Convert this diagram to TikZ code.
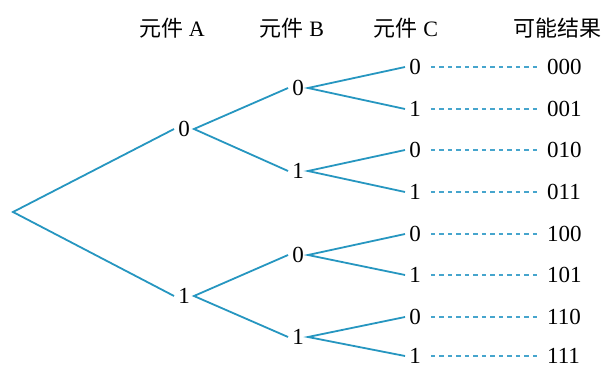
\documentclass[tikz,border=0pt]{standalone}
\usepackage{fontspec}
\setmainfont{Liberation Serif}
\newfontfamily\cjk{Noto Sans CJK SC}
\usepackage{tikz}
\usetikzlibrary{positioning}

\definecolor{branch}{RGB}{38,150,192}
\definecolor{dashblue}{RGB}{70,165,205}

\begin{document}
\begin{tikzpicture}[
    x=1pt, y=-1pt,
    node distance=10pt,
    dig/.style={inner sep=4pt, font=\fontsize{23}{23}\selectfont},
    outcome/.style={inner sep=4pt, font=\fontsize{23}{23}\selectfont},
    head/.style={font=\fontsize{22}{22}\selectfont},
    edge/.style={draw=branch, line width=1.8pt},
    link/.style={draw=dashblue, line width=1.3pt, dash pattern=on 4.5pt off 4pt,
        shorten <=6pt, shorten >=3pt}
]
    \useasboundingbox (0,0) rectangle (611,369);

    % Headers
    \node[head] (hA) at (172,28) {{\cjk 元件}\ A};
    \node[head] (hB) at (292,28) {{\cjk 元件}\ B};
    \node[head] (hC) at (406,28) {{\cjk 元件}\ C};
    \node[head] (hR) at (557,28) {\cjk 可能结果};

    % Tree
    \coordinate (root) at (13,212);
    \node[dig] (a0) at (184,129) {0};
    \node[dig] (a1) at (184,296) {1};
    \node[dig] (b00) at (298,88) {0};
    \node[dig] (b01) at (298,171) {1};
    \node[dig] (b10) at (298,255) {0};
    \node[dig] (b11) at (298,337) {1};
    \node[dig] (c000) at (415,67) {0};
    \node[dig] (c001) at (415,109) {1};
    \node[dig] (c010) at (415,150) {0};
    \node[dig] (c011) at (415,192) {1};
    \node[dig] (c100) at (415,234) {0};
    \node[dig] (c101) at (415,275) {1};
    \node[dig] (c110) at (415,317) {0};
    \node[dig] (c111) at (415,356) {1};

    % Outcomes
    \node[outcome, right=118pt of c000] (o000) {000};
    \node[outcome, right=118pt of c001] (o001) {001};
    \node[outcome, right=118pt of c010] (o010) {010};
    \node[outcome, right=118pt of c011] (o011) {011};
    \node[outcome, right=118pt of c100] (o100) {100};
    \node[outcome, right=118pt of c101] (o101) {101};
    \node[outcome, right=118pt of c110] (o110) {110};
    \node[outcome, right=118pt of c111] (o111) {111};

    % Branches
    \draw[edge] (a0.west) -- (root) -- (a1.west);
    \draw[edge] (b00.west) -- (a0.east) -- (b01.west);
    \draw[edge] (b10.west) -- (a1.east) -- (b11.west);
    \draw[edge] (c000.west) -- (b00.east) -- (c001.west);
    \draw[edge] (c010.west) -- (b01.east) -- (c011.west);
    \draw[edge] (c100.west) -- (b10.east) -- (c101.west);
    \draw[edge] (c110.west) -- (b11.east) -- (c111.west);

    % Dashed links
    \draw[link] (c000) -- (o000);
    \draw[link] (c001) -- (o001);
    \draw[link] (c010) -- (o010);
    \draw[link] (c011) -- (o011);
    \draw[link] (c100) -- (o100);
    \draw[link] (c101) -- (o101);
    \draw[link] (c110) -- (o110);
    \draw[link] (c111) -- (o111);
\end{tikzpicture}
\end{document}
